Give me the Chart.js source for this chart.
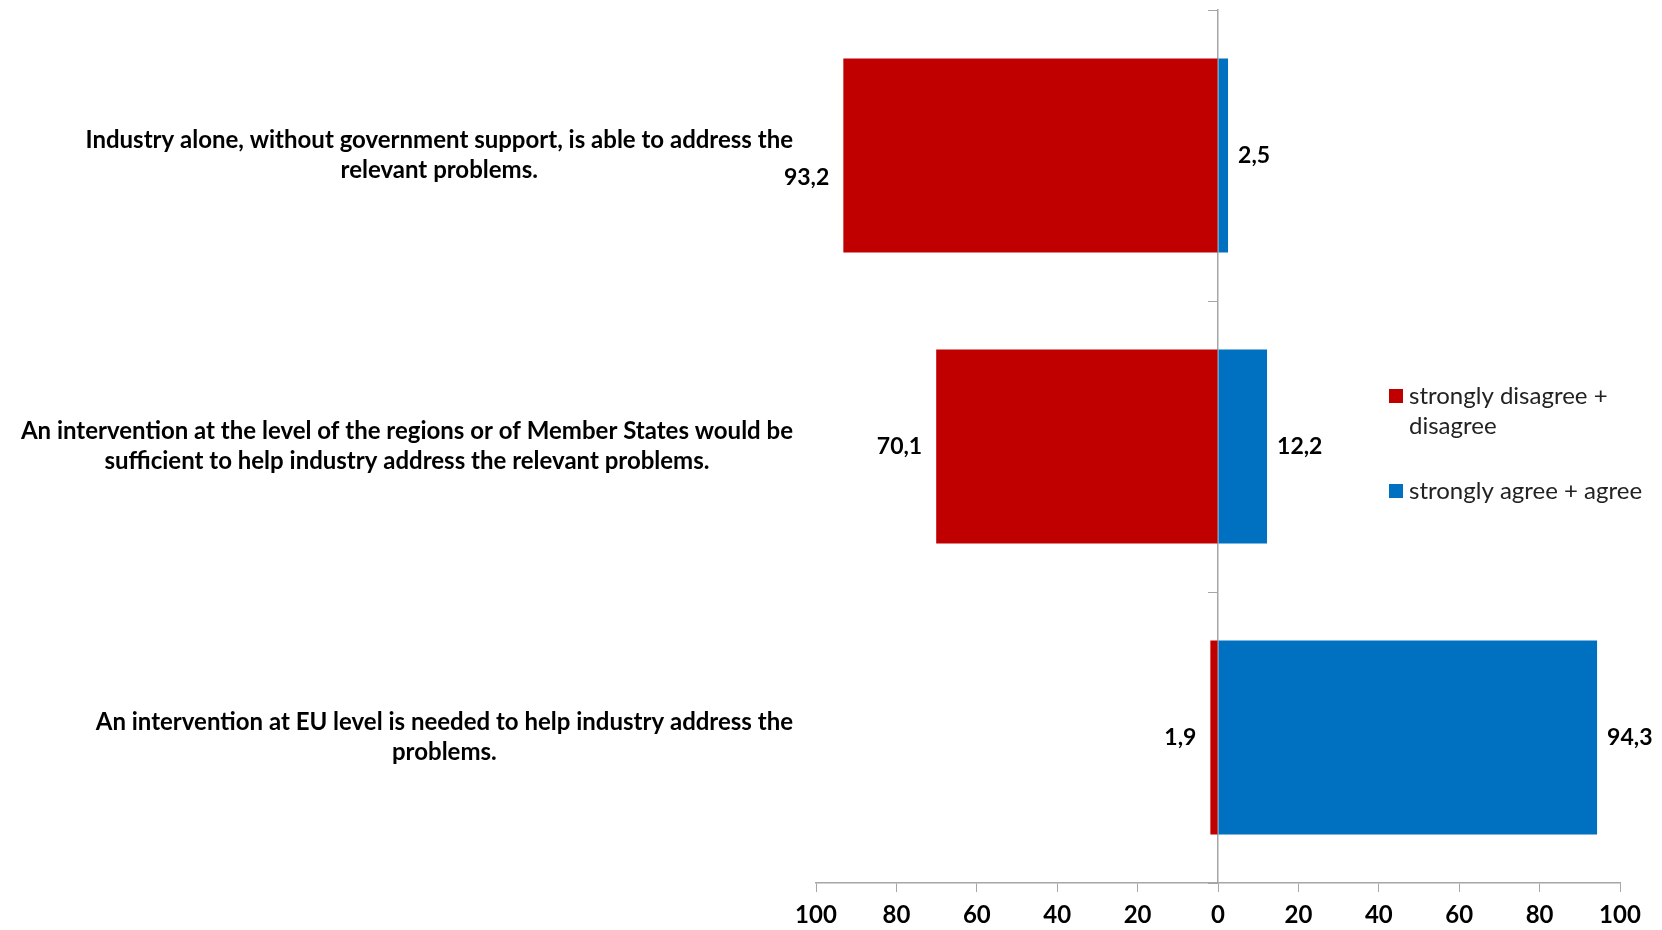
<!DOCTYPE html>
<html>
<head>
<meta charset="utf-8">
<script src="https://cdn.jsdelivr.net/npm/chart.js@4/dist/chart.umd.min.js"></script>
<style>
  html, body { margin: 0; padding: 0; background: #fff; }
  #wrap { width: 1662px; height: 930px; }
</style>
</head>
<body>
<div id="wrap"><canvas id="myChart"></canvas></div>
<script>
const categories = [
  ["Industry alone, without government support, is able to address the", "relevant problems."],
  ["An intervention at the level of the regions or of Member States would be", "sufficient to help industry address the relevant problems."],
  ["An intervention at EU level is needed to help industry address the", "problems."],
];
const disagreeValues = [93.2, 70.1, 1.9];
const agreeValues = [2.5, 12.2, 94.3];
const seriesNames = [["strongly disagree +", "disagree"], ["strongly agree + agree"]];
const xTicks = [-100, -80, -60, -40, -20, 0, 20, 40, 60, 80, 100];

const RED = "#C00000";
const BLUE = "#0070C0";
const AXIS = "#A6A6A6";
const FONT = "Lato, 'Open Sans', sans-serif";
const LABEL_RIGHT = 793;

const fmt = (v) => Math.abs(v).toFixed(1).replace(".", ",");

// category labels, each block right-aligned then centred on itself
const categoryLabels = {
  id: "categoryLabels",
  afterDraw(chart) {
    const { ctx, scales } = chart;
    const lh = 30;
    ctx.save();
    ctx.font = "bold 24px " + FONT;
    ctx.fillStyle = "#000";
    ctx.textAlign = "center";
    ctx.textBaseline = "middle";
    categories.forEach((lines, i) => {
      const y = scales.y.getPixelForValue(i);
      const w = Math.max(...lines.map((l) => ctx.measureText(l).width));
      const cx = LABEL_RIGHT - w / 2;
      lines.forEach((l, k) => {
        ctx.fillText(l, cx, y + (k - (lines.length - 1) / 2) * lh);
      });
    });
    ctx.restore();
  },
};

// value labels next to the bar ends
const valueLabels = {
  id: "valueLabels",
  afterDatasetsDraw(chart) {
    const { ctx } = chart;
    ctx.save();
    ctx.font = "bold 23px " + FONT;
    ctx.fillStyle = "#000";
    ctx.textBaseline = "middle";
    chart.data.datasets.forEach((ds, di) => {
      chart.getDatasetMeta(di).data.forEach((bar, i) => {
        const v = ds.data[i];
        const txt = fmt(v);
        if (v < 0) {
          const x = bar.x - 14;
          // push down if it would run into the category text
          const y = x - ctx.measureText(txt).width < LABEL_RIGHT + 8 ? bar.y + 22 : bar.y;
          ctx.textAlign = "right";
          ctx.fillText(txt, x, y);
        } else {
          ctx.textAlign = "left";
          ctx.fillText(txt, bar.x + 10, bar.y);
        }
      });
    });
    ctx.restore();
  },
};

// legend with wrapped text on the right
const sideLegend = {
  id: "sideLegend",
  afterDraw(chart) {
    const { ctx } = chart;
    const x = 1389;
    const tops = [396, 491];
    ctx.save();
    ctx.font = "24px " + FONT;
    ctx.textAlign = "left";
    ctx.textBaseline = "middle";
    chart.data.datasets.forEach((ds, i) => {
      ctx.fillStyle = ds.backgroundColor;
      ctx.fillRect(x, tops[i] - 7, 14, 14);
      ctx.fillStyle = "#222";
      seriesNames[i].forEach((l, k) => ctx.fillText(l, x + 20, tops[i] + k * 30));
    });
    ctx.restore();
  },
};

const ctx = document.getElementById("myChart");
new Chart(ctx, {
  type: "bar",
  data: {
    labels: categories.map((c) => c.join(" ")),
    datasets: [
      {
        label: seriesNames[0].join(" "),
        data: disagreeValues.map((v) => -v),
        backgroundColor: RED,
        barPercentage: 0.667,
        categoryPercentage: 1,
      },
      {
        label: seriesNames[1].join(" "),
        data: agreeValues,
        backgroundColor: BLUE,
        barPercentage: 0.667,
        categoryPercentage: 1,
      },
    ],
  },
  options: {
    indexAxis: "y",
    responsive: true,
    maintainAspectRatio: false,
    animation: false,
    layout: { padding: { left: 816, right: 42, top: 10, bottom: 0 } },
    scales: {
      x: {
        stacked: true,
        min: -100,
        max: 100,
        afterBuildTicks: (scale) => {
          scale.ticks = xTicks.map((v) => ({ value: v }));
        },
        afterFit: (scale) => {
          scale.height = 47;
        },
        grid: { drawOnChartArea: false, color: AXIS, tickLength: 9 },
        border: { color: AXIS, width: 1.5 },
        ticks: {
          callback: (v) => Math.abs(v),
          color: "#000",
          font: { family: FONT, size: 24, weight: "bold" },
          padding: 9,
          maxRotation: 0,
          autoSkip: false,
        },
      },
      y: {
        stacked: true,
        position: { x: 0 },
        grid: { drawOnChartArea: false, color: AXIS, tickLength: 9, offset: true },
        border: { color: AXIS, width: 1.5 },
        ticks: { display: false },
      },
    },
    plugins: {
      legend: { display: false },
      tooltip: { enabled: false },
    },
  },
  plugins: [categoryLabels, valueLabels, sideLegend],
});
</script>
</body>
</html>
